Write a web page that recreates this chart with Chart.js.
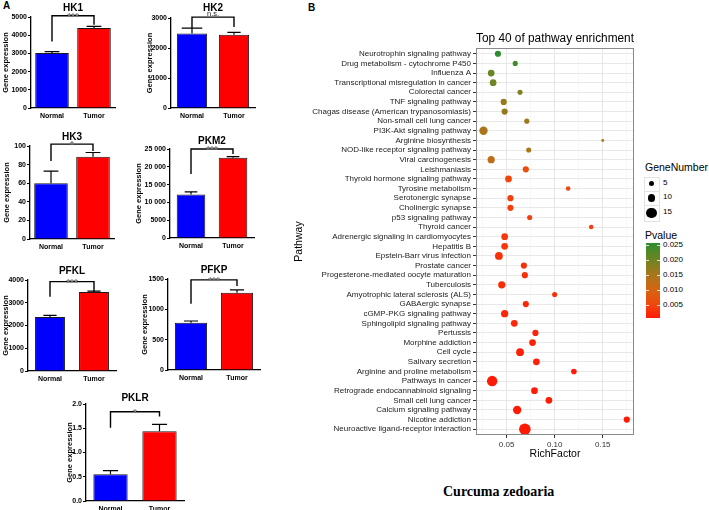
<!DOCTYPE html>
<html>
<head>
<meta charset="utf-8">
<script src="https://cdn.jsdelivr.net/npm/chart.js@4.4.1/dist/chart.umd.min.js"></script>
<style>
  body { margin: 0; background: #fff; }
  #wrap { position: relative; width: 709px; height: 510px; overflow: hidden; background: #fff;
          font-family: 'Liberation Sans', Arial, Helvetica, sans-serif; }
  #wrap canvas { position: absolute; }
  .txt { position: absolute; white-space: nowrap; line-height: 1; color: #000; }
</style>
</head>
<body>
<div id="wrap">
  <div class="txt" style="left:3px;top:1px;font-size:10px;font-weight:bold;">A</div>
  <div class="txt" style="left:308px;top:3px;font-size:10px;font-weight:bold;">B</div>
  <div class="txt" style="left:443px;top:485px;font-size:14px;font-weight:bold;font-family:'Liberation Serif','Times New Roman',serif;">Curcuma zedoaria</div>
</div>
<script>
// ---- panel A : gene expression bars ----
const groups = ['Normal', 'Tumor'];
const genes = ['HK1', 'HK2', 'HK3', 'PKM2', 'PFKL', 'PFKP', 'PKLR'];
const normalMean = [3020, 2480, 60, 12200, 2370, 780, 0.55];
const normalErr = [80, 180, 13, 750, 75, 28, 0.075];
const tumorMean = [4400, 2440, 88.5, 22550, 3470, 1275, 1.44];
const tumorErr = [90, 80, 4.5, 300, 45, 45, 0.14];
const signif = ['***', 'n.s.', '*', '***', '***', '***', '*'];
const axisMax = [5000, 3000, 100, 25000, 4000, 1500, 2];
const axisStep = [1000, 1000, 20, 5000, 1000, 500, 0.5];
// significance brackets (data units)
const bracketTop = [5070, 3030, 102, 25000, 3930, 1485, 1.84];
const bracketLeft = [3660, 2670, 84, 18000, 3260, 1090, 1.51];
const bracketRight = [4580, 2700, 94.5, 23600, 3490, 1385, 1.74];

// ---- panel B : pathway enrichment ----
const pathways = [
  'Neurotrophin signaling pathway', 'Drug metabolism - cytochrome P450', 'Influenza A',
  'Transcriptional misregulation in cancer', 'Colorectal cancer', 'TNF signaling pathway',
  'Chagas disease (American trypanosomiasis)', 'Non-small cell lung cancer', 'PI3K-Akt signaling pathway',
  'Arginine biosynthesis', 'NOD-like receptor signaling pathway', 'Viral carcinogenesis',
  'Leishmaniasis', 'Thyroid hormone signaling pathway', 'Tyrosine metabolism',
  'Serotonergic synapse', 'Cholinergic synapse', 'p53 signaling pathway', 'Thyroid cancer',
  'Adrenergic signaling in cardiomyocytes', 'Hepatitis B', 'Epstein-Barr virus infection',
  'Prostate cancer', 'Progesterone-mediated oocyte maturation', 'Tuberculosis',
  'Amyotrophic lateral sclerosis (ALS)', 'GABAergic synapse', 'cGMP-PKG signaling pathway',
  'Sphingolipid signaling pathway', 'Pertussis', 'Morphine addiction', 'Cell cycle',
  'Salivary secretion', 'Arginine and proline metabolism', 'Pathways in cancer',
  'Retrograde endocannabinoid signaling', 'Small cell lung cancer', 'Calcium signaling pathway',
  'Nicotine addiction', 'Neuroactive ligand-receptor interaction'
];
const richFactor = [0.041, 0.059, 0.034, 0.036, 0.064, 0.047, 0.048, 0.071, 0.026, 0.150,
  0.073, 0.034, 0.070, 0.052, 0.114, 0.054, 0.054, 0.074, 0.138, 0.048,
  0.048, 0.042, 0.068, 0.069, 0.045, 0.100, 0.070, 0.048, 0.058, 0.080,
  0.077, 0.064, 0.081, 0.120, 0.035, 0.079, 0.094, 0.061, 0.175, 0.069];
const geneNumber = [7, 5, 8, 8, 5, 7, 7, 5, 11, 1,
  5, 9, 7, 8, 4, 7, 7, 5, 4, 8,
  8, 10, 7, 7, 9, 5, 7, 9, 8, 7,
  8, 10, 8, 6, 15, 8, 8, 11, 7, 17];
const pValue = [0.0258, 0.024, 0.021, 0.0205, 0.019, 0.017, 0.0168, 0.0158, 0.015, 0.0152,
  0.0148, 0.0128, 0.0062, 0.0048, 0.005, 0.0045, 0.0045, 0.0042, 0.0042, 0.0036,
  0.0035, 0.0031, 0.003, 0.003, 0.0026, 0.0028, 0.0022, 0.002, 0.002, 0.0018,
  0.0017, 0.0015, 0.0015, 0.0012, 0.001, 0.0012, 0.001, 0.001, 0.0009, 0.0009];
const sizeLegend = [5, 10, 15];
const pLegend = [0.025, 0.020, 0.015, 0.010, 0.005];
const xTicks = [0.025, 0.05, 0.075, 0.10, 0.125, 0.15, 0.175];

Chart.defaults.font.family = "'Liberation Sans', Arial, Helvetica, sans-serif";
Chart.defaults.color = '#000';

const wrap = document.getElementById('wrap');
function addCanvas(left, top, w, h) {
  const c = document.createElement('canvas');
  c.width = w; c.height = h;
  c.style.left = left + 'px'; c.style.top = top + 'px';
  c.style.width = w + 'px'; c.style.height = h + 'px';
  wrap.appendChild(c);
  return c;
}

// where each small chart sits (plot box in page pixels)
const boxes = [
  {L: 31, R: 115, T: 17, B: 108, tY: 8, yw: 31, bp: 0.8},
  {L: 171, R: 255, T: 18, B: 108, tY: 8, yw: 27, bp: 0.72},
  {L: 30, R: 114, T: 146, B: 239, tY: 137, yw: 29, bp: 0.8},
  {L: 170, R: 254, T: 149, B: 238, tY: 141, yw: 37, bp: 0.68},
  {L: 28, R: 116, T: 280, B: 371, tY: 271, yw: 28, bp: 0.68},
  {L: 168, R: 260, T: 279, B: 370, tY: 270, yw: 29, bp: 0.7},
  {L: 86, R: 184, T: 404, B: 501, tY: 398, yw: 22, bp: 0.7}
];

function fmtTick(g, v) {
  if (g === 6) return v.toFixed(1);
  if (v >= 10000) return String(v).replace(/\B(?=(\d{3})+(?!\d))/g, ' ');
  return String(v);
}

// error bars + significance bracket
const barExtras = {
  id: 'barExtras',
  afterDatasetsDraw(chart, args, opts) {
    const g = opts.gene;
    const ctx = chart.ctx;
    const ys = chart.scales.y;
    const meta = chart.getDatasetMeta(0);
    const means = [normalMean[g], tumorMean[g]];
    const errs = [normalErr[g], tumorErr[g]];
    ctx.save();
    ctx.strokeStyle = '#000';
    ctx.lineWidth = 1.2;
    meta.data.forEach((bar, k) => {
      const yt = ys.getPixelForValue(means[k] + errs[k]);
      const half = bar.width * (g === 1 && k === 0 ? 0.34 : 0.22);
      ctx.beginPath();
      ctx.moveTo(bar.x, bar.y); ctx.lineTo(bar.x, yt);
      ctx.moveTo(bar.x - half, yt); ctx.lineTo(bar.x + half, yt);
      ctx.stroke();
    });
    const x1 = meta.data[0].x, x2 = meta.data[1].x;
    const yTop = ys.getPixelForValue(bracketTop[g]);
    ctx.lineWidth = 1.4;
    ctx.beginPath();
    ctx.moveTo(x1, ys.getPixelForValue(bracketLeft[g]));
    ctx.lineTo(x1, yTop);
    ctx.lineTo(x2, yTop);
    ctx.lineTo(x2, ys.getPixelForValue(bracketRight[g]));
    ctx.stroke();
    const stars = signif[g].indexOf('*') >= 0;
    ctx.fillStyle = stars ? '#777' : '#222';
    ctx.font = (stars ? 'bold 10px ' : '7.5px ') + Chart.defaults.font.family;
    ctx.textAlign = 'center';
    ctx.textBaseline = 'alphabetic';
    ctx.fillText(signif[g], (x1 + x2) / 2, stars ? yTop + 5 : yTop - 1);
    ctx.restore();
  }
};

genes.forEach((gene, g) => {
  const b = boxes[g];
  const left = b.L - b.yw, top = b.tY - 6;
  const w = b.R - left + 3, h = b.B - top + 14;
  const cv = addCanvas(left, top, w, h);
  new Chart(cv, {
    type: 'bar',
    data: {
      labels: groups,
      datasets: [{
        data: [normalMean[g], tumorMean[g]],
        backgroundColor: ['#0000ff', '#ff0000'],
        borderColor: '#1a1a1a',
        borderWidth: 1,
        borderSkipped: 'bottom',
        barPercentage: b.bp,
        categoryPercentage: 1
      }]
    },
    options: {
      responsive: false,
      animation: false,
      devicePixelRatio: 1,
      events: [],
      layout: {padding: {top: 0, left: 0, right: 3, bottom: 0}},
      plugins: {
        legend: {display: false},
        tooltip: {enabled: false},
        title: {
          display: true, text: gene, fullSize: false, color: '#000',
          font: {size: 10, weight: 'bold'},
          padding: {top: 0, bottom: b.T - top - 12}
        },
        barExtras: {gene: g}
      },
      scales: {
        x: {
          grid: {display: false, drawTicks: false},
          border: {display: true, color: '#000', width: 1.3},
          ticks: {font: {size: 7, weight: 'bold'}, color: '#000', padding: 3.5},
          afterFit: s => { s.height = 14; }
        },
        y: {
          min: 0, max: axisMax[g],
          ticks: {stepSize: axisStep[g], font: {size: 7, weight: 'bold'}, color: '#000', padding: 1,
                  callback: v => fmtTick(g, v)},
          grid: {drawOnChartArea: false, drawTicks: true, tickLength: 3, color: '#000'},
          border: {display: true, color: '#000', width: 1.3},
          title: {display: true, text: 'Gene expression', color: '#000',
                  font: {size: 7.5, weight: 'bold'}, padding: {top: 1, bottom: 0}},
          afterFit: s => { s.width = b.yw; }
        }
      }
    },
    plugins: [barExtras]
  });
});

// ---- panel B ----
const colorStops = [
  [0.0009, [255, 25, 5]], [0.005, [242, 70, 12]], [0.010, [215, 100, 18]],
  [0.015, [170, 118, 25]], [0.020, [115, 132, 35]], [0.0258, [45, 142, 45]]
];
function colorFor(p) {
  if (p <= colorStops[0][0]) return 'rgb(' + colorStops[0][1].join(',') + ')';
  for (let i = 1; i < colorStops.length; i++) {
    const [p1, c1] = colorStops[i];
    const [p0, c0] = colorStops[i - 1];
    if (p <= p1) {
      const t = (p - p0) / (p1 - p0);
      return 'rgb(' + c0.map((c, k) => Math.round(c + (c1[k] - c) * t)).join(',') + ')';
    }
  }
  return 'rgb(' + colorStops[colorStops.length - 1][1].join(',') + ')';
}
function sizeFor(n) { return 1.2 + 0.27 * n; }
const isMajor = v => Math.round(v * 1000) % 50 === 0;

const panelBorder = {
  id: 'panelBorder',
  afterDraw(chart) {
    const {ctx, chartArea: a} = chart;
    ctx.save();
    ctx.strokeStyle = '#8a8a8a';
    ctx.lineWidth = 1;
    ctx.strokeRect(a.left + 0.5, a.top + 0.5, a.right - a.left - 1, a.bottom - a.top - 1);
    ctx.restore();
  }
};

const cvB = addCanvas(290, 28, 350, 433);
new Chart(cvB, {
  type: 'bubble',
  data: {
    datasets: [{
      data: pathways.map((p, i) => ({x: richFactor[i], y: i, r: sizeFor(geneNumber[i])})),
      backgroundColor: pValue.map(colorFor),
      borderWidth: 0
    }]
  },
  options: {
    responsive: false,
    animation: false,
    devicePixelRatio: 1,
    events: [],
    layout: {padding: {top: 0, left: 0, right: 6, bottom: 0}},
    plugins: {
      legend: {display: false},
      tooltip: {enabled: false},
      title: {display: true, text: 'Top 40 of pathway enrichment', fullSize: false, color: '#000',
              font: {size: 12.5, weight: 'normal'}, padding: {top: 3, bottom: 2}}
    },
    scales: {
      x: {
        type: 'linear', position: 'bottom', min: 0.0182, max: 0.1825,
        afterBuildTicks: s => { s.ticks = xTicks.map(v => ({value: v})); },
        ticks: {autoSkip: false, maxRotation: 0, font: {size: 8}, color: '#333', padding: 2,
                callback: v => isMajor(v) ? v.toFixed(2) : ''},
        grid: {
          color: c => (c.tick && isMajor(c.tick.value)) ? '#e8e8e8' : '#f4f4f4',
          lineWidth: c => (c.tick && isMajor(c.tick.value)) ? 1 : 0.6,
          tickColor: c => (c.tick && isMajor(c.tick.value)) ? '#333' : 'rgba(0,0,0,0)',
          tickLength: 3
        },
        border: {display: false},
        title: {display: true, text: 'RichFactor', color: '#000', font: {size: 10.5},
                padding: {top: 0, bottom: 1}},
        afterFit: s => { s.height = 26; }
      },
      y: {
        type: 'linear', reverse: true, min: -0.6, max: 39.6,
        afterBuildTicks: s => { s.ticks = pathways.map((p, i) => ({value: i})); },
        ticks: {autoSkip: false, font: {size: 8}, color: '#222', padding: 2,
                callback: v => pathways[v]},
        grid: {color: '#e8e8e8', lineWidth: 1, tickColor: '#333', tickLength: 3},
        border: {display: false},
        title: {display: true, text: 'Pathway', color: '#000', font: {size: 10.5},
                padding: {top: 3, bottom: 0}},
        afterFit: s => { s.width = 186; }
      }
    }
  },
  plugins: [panelBorder]
});

// ---- legend of panel B (html) ----
function addDiv(css, text) {
  const d = document.createElement('div');
  d.className = 'txt';
  d.style.cssText += css;
  if (text !== undefined) d.textContent = text;
  wrap.appendChild(d);
  return d;
}
addDiv('left:645px;top:162px;font-size:10.5px;', 'GeneNumber');
const keyTops = [177, 190.5, 205];
const keyHeights = [13.5, 14.5, 15.5];
sizeLegend.forEach((n, i) => {
  const t = keyTops[i], hh = keyHeights[i];
  addDiv('left:644px;top:' + t + 'px;width:14px;height:' + (hh - 1) + 'px;border:1px solid #e2e2e2;background:#fff;');
  const r = sizeFor(n);
  const cy = t + hh / 2;
  addDiv('left:' + (651.5 - r) + 'px;top:' + (cy - r) + 'px;width:' + (2 * r) + 'px;height:' + (2 * r) + 'px;border-radius:50%;background:#000;');
  addDiv('left:663px;top:' + (cy - 4.5) + 'px;font-size:8px;', String(n));
});
addDiv('left:645px;top:230px;font-size:10.5px;', 'Pvalue');
const pMax = Math.max(...pValue), pMin = Math.min(...pValue);
const barTop = 243.3, barH = 75;
const stops = [];
for (let k = 0; k <= 10; k++) {
  const p = pMax - (pMax - pMin) * k / 10;
  stops.push(colorFor(p) + ' ' + (k * 10) + '%');
}
addDiv('left:645.7px;top:' + barTop + 'px;width:14.3px;height:' + barH + 'px;background:linear-gradient(to bottom,' + stops.join(',') + ');');
pLegend.forEach(p => {
  const y = barTop + (pMax - p) / (pMax - pMin) * barH;
  addDiv('left:645.7px;top:' + (y - 0.5) + 'px;width:3px;height:1px;background:rgba(255,255,255,0.8);');
  addDiv('left:657px;top:' + (y - 0.5) + 'px;width:3px;height:1px;background:rgba(255,255,255,0.8);');
  addDiv('left:663px;top:' + (y - 4.5) + 'px;font-size:8px;', p.toFixed(3));
});
</script>
</body>
</html>
